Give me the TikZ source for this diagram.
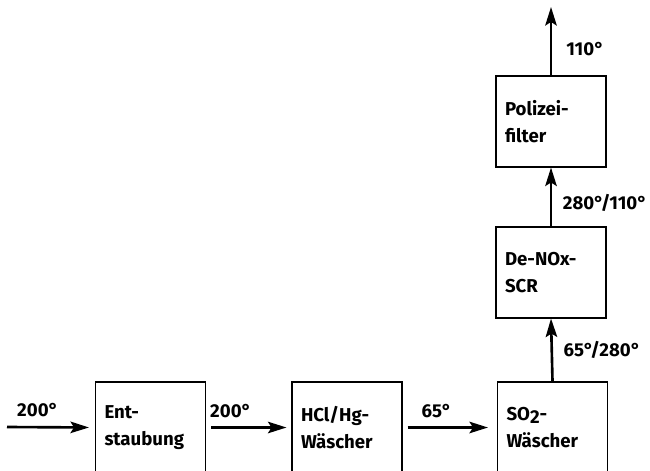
\documentclass[tikz,border=0pt]{standalone}
\usepackage{fontspec}
\setmainfont{Fira Sans}
\usetikzlibrary{arrows.meta}

\newcommand{\boxfont}{\fontsize{10.6}{15.5}\selectfont\bfseries}
\newcommand{\tempfont}{\fontsize{10.6}{12}\selectfont\bfseries}

\begin{document}
\begin{tikzpicture}[
    box/.style={draw, line width=0.6pt, minimum width=2.2cm, minimum height=1.82cm,
        text width=1.84cm, inner xsep=0.18cm, align=left, font=\boxfont},
    flow/.style={line width=1.5pt, -{Stealth[length=10.5pt,width=6.5pt,inset=2pt]}},
    temp/.style={font=\tempfont, inner sep=2pt}
]
    % Fix the frame of the picture
    \useasboundingbox (0,0) rectangle (13,9.4);
    \clip (0,0) rectangle (13,9.4);

    % Define the free ends of the gas line
    \coordinate (in) at (0.14,0.86);
    \coordinate (out) at (11.02,9.26);

    % Draw the boxes
    \node[box] (ent) at (3.01,0.85) {Ent-\\staubung};
    \node[box] (hcl) at (6.94,0.85) {HCl/Hg-\\Wäscher};
    \node[box] (so2) at (11.05,0.85) {SO\raisebox{-0.3ex}{2}-\\Wäscher};
    \node[box] (denox) at (11.02,3.95) {De-NOx-\\SCR};
    \node[box] (pol) at (11.02,6.97) {Polizei-\\filter};

    % Draw the flow with its temperatures
    \draw[flow, shorten >=0.12cm] (in) -- (ent.west)
        node[temp, pos=0.35, above=3pt] {200°};
    \draw[flow, shorten <=0.1cm, shorten >=0.1cm] (ent.east) -- (hcl.west)
        node[temp, pos=0.29, above=3pt] {200°};
    \draw[flow, shorten <=0.1cm, shorten >=0.18cm] (hcl.east) -- (so2.west)
        node[temp, pos=0.36, above=3pt] {65°};
    \draw[flow] (so2.north) -- (denox.south)
        node[temp, midway, right=4pt] {65°/280°};
    \draw[flow] (denox.north) -- (pol.south)
        node[temp, pos=0.4, right=4pt] {280°/110°};
    \draw[flow] (pol.north) -- (out)
        node[temp, pos=0.38, right=6pt] {110°};

\end{tikzpicture}
\end{document}
